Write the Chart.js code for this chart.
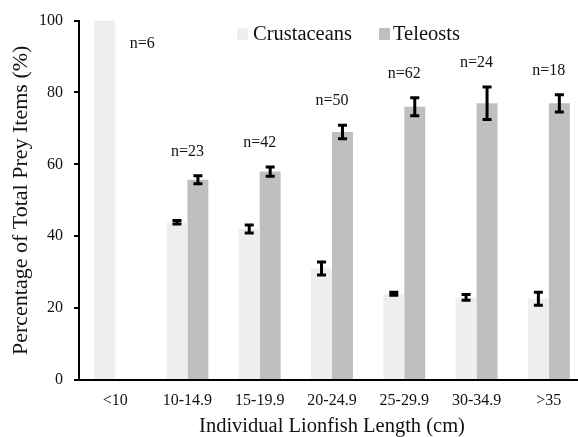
<!DOCTYPE html>
<html>
<head>
<meta charset="utf-8">
<script src="https://cdn.jsdelivr.net/npm/chart.js@4/dist/chart.umd.min.js"></script>
<style>
  html, body { margin: 0; padding: 0; background: #fff; overflow: hidden; }
  #wrap { width: 600px; height: 437px; }
</style>
</head>
<body>
<div id="wrap"><canvas id="c" width="600" height="437"></canvas></div>
<script>
// ---- data ----
const categories = ['<10', '10-14.9', '15-19.9', '20-24.9', '25-29.9', '30-34.9', '>35'];
const crustaceans = [100, 43.9, 42.0, 31.0, 24.0, 23.0, 22.6];
const crustaceanErr = [0, 0.5, 1.1, 1.8, 0.4, 0.8, 1.8];
const teleosts = [0, 55.7, 58.0, 69.0, 76.0, 77.0, 77.0];
const teleostErr = [0, 1.1, 1.3, 1.9, 2.5, 4.5, 2.4];
const sampleSizes = [6, 23, 42, 50, 62, 24, 18];
const yTicks = [0, 20, 40, 60, 80, 100];
const seriesNames = ['Crustaceans', 'Teleosts'];

const FONT = "'Liberation Serif', 'Times New Roman', Times, serif";
const TEXT = '#111111';
const colors = ['#efefef', '#bfbfbf'];
Chart.defaults.font.family = FONT;
Chart.defaults.color = TEXT;

const overlay = {
  id: 'overlay',
  afterDatasetsDraw(chart) {
    const ctx = chart.ctx;
    const ys = chart.scales.y, xs = chart.scales.x;
    const errs = [crustaceanErr, teleostErr];
    const vals = [crustaceans, teleosts];
    ctx.save();
    ctx.strokeStyle = '#000';
    ctx.lineWidth = 3;
    ctx.lineCap = 'butt';
    for (let d = 0; d < 2; d++) {
      const meta = chart.getDatasetMeta(d);
      meta.data.forEach((bar, j) => {
        const e = errs[d][j], v = vals[d][j];
        if (!e || !v) return;
        const x = bar.x;
        const yt = ys.getPixelForValue(v + e);
        const yb = ys.getPixelForValue(v - e);
        ctx.beginPath();
        ctx.moveTo(x, yt); ctx.lineTo(x, yb);
        ctx.moveTo(x - 4.5, yt); ctx.lineTo(x + 4.5, yt);
        ctx.moveTo(x - 4.5, yb); ctx.lineTo(x + 4.5, yb);
        ctx.stroke();
      });
    }
    // sample size labels
    ctx.fillStyle = TEXT;
    ctx.font = '16px ' + FONT;
    ctx.textAlign = 'center';
    ctx.textBaseline = 'middle';
    sampleSizes.forEach((n, j) => {
      const cx = xs.getPixelForValue(j);
      let x, y;
      if (!teleosts[j]) {
        x = cx + 27;
        y = ys.getPixelForValue(crustaceans[j]) + 23;
      } else {
        x = cx;
        y = ys.getPixelForValue(teleosts[j] + teleostErr[j]) - 24;
      }
      ctx.fillText('n=' + n, x, y);
    });
    // legend
    ctx.font = '20.5px ' + FONT;
    ctx.textAlign = 'left';
    const legendY = 34;
    const items = [{x: 237, tx: 253}, {x: 379, tx: 393}];
    items.forEach((it, i) => {
      ctx.fillStyle = colors[i];
      ctx.fillRect(it.x, legendY - 6, 11, 12);
      ctx.fillStyle = TEXT;
      ctx.fillText(seriesNames[i], it.tx, legendY + 1);
    });
    ctx.restore();
  }
};

new Chart(document.getElementById('c'), {
  type: 'bar',
  data: {
    labels: categories,
    datasets: [
      { label: seriesNames[0], data: crustaceans, backgroundColor: colors[0], borderWidth: 0 },
      { label: seriesNames[1], data: teleosts, backgroundColor: colors[1], borderWidth: 0 }
    ]
  },
  options: {
    responsive: false,
    animation: false,
    datasets: { bar: { barPercentage: 1.0, categoryPercentage: 0.58 } },
    layout: { padding: { top: 20, right: 15, bottom: 0, left: 0 } },
    plugins: { legend: { display: false }, tooltip: { enabled: false } },
    scales: {
      x: {
        grid: { display: false, drawTicks: false },
        border: { display: true, color: '#000', width: 2 },
        ticks: { font: { size: 16 }, color: TEXT, padding: 11, maxRotation: 0, autoSkip: false },
        title: {
          display: true, text: 'Individual Lionfish Length (cm)', color: TEXT,
          font: { size: 20.5, lineHeight: 1 }, padding: { top: 0, bottom: 0 }
        },
        afterFit(s) { s.height = 57; }
      },
      y: {
        min: 0, max: 100,
        afterBuildTicks(s) { s.ticks = yTicks.map(v => ({ value: v })); },
        ticks: { font: { size: 16 }, color: TEXT, padding: 11 },
        grid: { drawOnChartArea: false, drawTicks: true, tickLength: 5, color: '#000', lineWidth: 2 },
        border: { display: true, color: '#000', width: 2 },
        title: {
          display: true, text: 'Percentage of Total Prey Items (%)', color: TEXT,
          font: { size: 22, lineHeight: 1.2 }, padding: { top: 8, bottom: 0 }
        },
        afterFit(s) { s.width = 79; }
      }
    }
  },
  plugins: [overlay]
});
</script>
</body>
</html>
